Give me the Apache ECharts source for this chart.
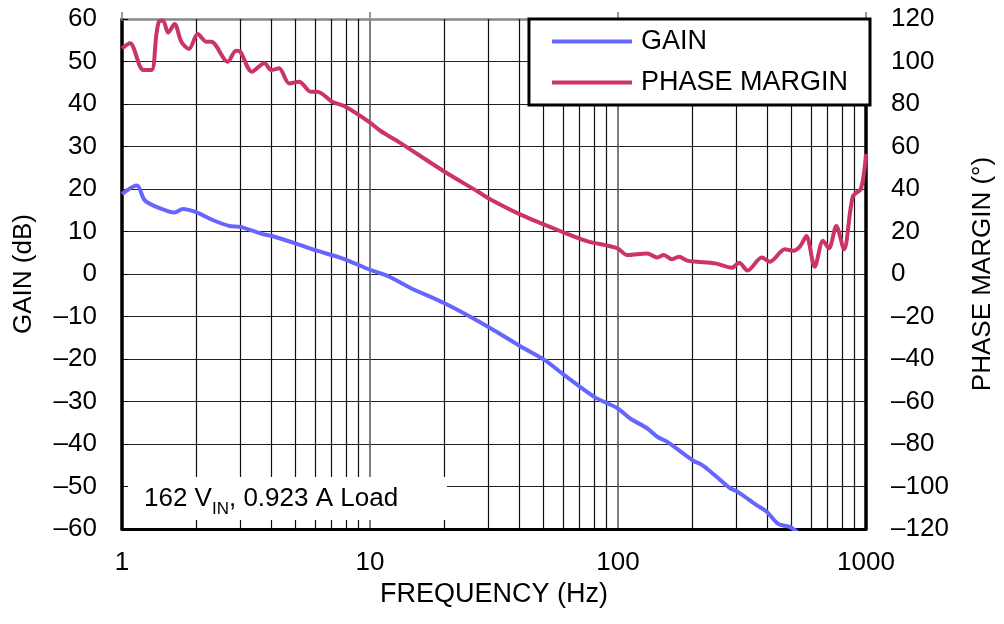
<!DOCTYPE html>
<html>
<head>
<meta charset="utf-8">
<script src="https://cdn.jsdelivr.net/npm/echarts@6/dist/echarts.min.js"></script>
<style>html,body{margin:0;padding:0;background:#fff}#c{width:1004px;height:624px}</style>
</head>
<body>
<div id="c"></div>
<script>
// Gain (dB) vs frequency (Hz)
const gainFreq = [1, 1.146, 1.237, 1.42, 1.63, 1.76, 2.0, 2.32, 2.71, 3.0, 3.69, 4.0, 5.0, 6.0, 7.72, 10, 11.9, 14.7, 20, 29.9, 40.7, 50.5, 60.8, 80.2, 99.5, 112, 131, 144, 158, 202, 218, 243, 283, 301, 362, 397, 443, 493, 532];
const gainDb = [18.8, 20.8, 17.3, 15.5, 14.5, 15.3, 14.5, 12.7, 11.3, 11.1, 9.4, 9.0, 7.2, 5.6, 3.7, 1.0, -0.6, -3.4, -6.9, -12.4, -17.1, -20.2, -23.8, -28.9, -31.6, -34.0, -36.3, -38.3, -39.5, -44.0, -44.9, -47.1, -50.4, -51.1, -54.4, -55.9, -58.8, -59.5, -60.9];
// Phase margin (deg) vs frequency (Hz)
const phaseFreq = [1, 1.077, 1.218, 1.316, 1.378, 1.42, 1.465, 1.534, 1.63, 1.735, 1.862, 2.02, 2.19, 2.29, 2.67, 2.88, 3.0, 3.34, 3.75, 4.0, 4.30, 4.72, 5.18, 5.77, 6.13, 7.04, 7.97, 9.88, 11.0, 13.0, 20, 27.3, 30.9, 40.7, 57.1, 75, 99.5, 109, 131, 144, 153, 165, 176, 190, 208, 247, 288, 308, 333, 380, 410, 471, 509, 541, 575, 621, 671, 709, 759, 815, 885, 955, 1000];
const phaseDeg = [106.2, 108.6, 96.0, 96.0, 113.3, 119.2, 119.2, 113.6, 117.6, 109.3, 105.9, 112.9, 109.3, 109.3, 99.9, 105.1, 104.6, 95.2, 99.2, 96.0, 96.8, 89.7, 90.5, 85.8, 85.8, 81.1, 78.7, 71.7, 67.4, 62.3, 48.1, 38.7, 34.8, 27.8, 20.7, 15.5, 12.1, 8.9, 9.7, 7.8, 8.9, 6.9, 8.1, 6.3, 5.8, 5.0, 3.0, 5.3, 1.6, 7.8, 5.8, 11.6, 11.0, 12.9, 17.9, 3.4, 15.7, 12.1, 22.6, 11.6, 36.4, 40.3, 56.5];
// Minor log grid positions
const minorFreqs = [2,3,4,5,6,7,8,9,20,30,40,50,60,70,80,90,200,300,400,500,600,700,800,900];
const seriesNames = ['GAIN', 'PHASE MARGIN'];
const noteText = ['162 V', 'IN', ', 0.923 A Load'];

const FONT = "'Liberation Sans', Arial, sans-serif";
const dash = v => String(v).replace('-', '\u2013');

const chart = echarts.init(document.getElementById('c'), null, {renderer: 'canvas'});
chart.setOption({
  animation: false,
  backgroundColor: '#fff',
  textStyle: {fontFamily: FONT},
  grid: {left: 122, right: 134, top: 19, bottom: 95, containLabel: false},
  legend: {
    right: 134, top: 19, orient: 'vertical',
    backgroundColor: '#fff', borderColor: '#000', borderWidth: 3, borderRadius: 0,
    padding: [9, 22, 9, 23], itemWidth: 80, itemHeight: 4, itemGap: 14,
    icon: 'rect',
    textStyle: {fontSize: 27, color: '#000', fontFamily: FONT, padding: [0, 0, 0, 4]},
    data: seriesNames
  },
  xAxis: [{
    type: 'log', logBase: 10, min: 1, max: 1000, position: 'bottom',
    axisLine: {show: true, onZero: false, lineStyle: {color: '#000', width: 3}},
    axisTick: {show: false},
    axisLabel: {fontSize: 26, color: '#000', margin: 21, fontFamily: FONT, formatter: v => String(v)},
    splitLine: {show: true, lineStyle: {color: '#555', width: 1.5}},
    name: 'FREQUENCY (Hz)', nameLocation: 'middle', nameGap: 50,
    nameTextStyle: {fontSize: 27, color: '#000', fontFamily: FONT}
  }, {
    type: 'log', logBase: 10, min: 1, max: 1000, position: 'top',
    axisLine: {show: true, onZero: false, lineStyle: {color: '#888', width: 2.5}},
    axisTick: {show: true, inside: false, length: 7, lineStyle: {color: '#999', width: 2}},
    axisLabel: {show: false}, splitLine: {show: false}
  }],
  yAxis: [{
    type: 'value', min: -60, max: 60, interval: 10, position: 'left',
    axisLine: {show: true, onZero: false, lineStyle: {color: '#000', width: 3.5}},
    axisTick: {show: true, inside: true, length: 6, lineStyle: {color: '#000', width: 1}},
    axisLabel: {fontSize: 26, color: '#000', margin: 25, formatter: dash, fontFamily: FONT},
    splitLine: {show: true, lineStyle: {color: '#222', width: 1.2}},
    name: 'GAIN (dB)', nameLocation: 'middle', nameGap: 85, nameRotate: 90,
    nameTextStyle: {fontSize: 26, color: '#000', fontFamily: FONT}
  }, {
    type: 'value', min: -120, max: 120, interval: 20, position: 'right',
    axisLine: {show: true, onZero: false, lineStyle: {color: '#000', width: 3.5}},
    axisTick: {show: false},
    axisLabel: {fontSize: 26, color: '#000', margin: 25, formatter: dash, fontFamily: FONT},
    splitLine: {show: false},
    name: 'PHASE MARGIN (°)', nameLocation: 'middle', nameGap: 104, nameRotate: 90,
    nameTextStyle: {fontSize: 26, color: '#000', fontFamily: FONT}
  }],
  series: [{
    name: seriesNames[0], type: 'line', xAxisIndex: 0, yAxisIndex: 0,
    data: gainFreq.map((f, i) => [f, gainDb[i]]),
    symbol: 'none', smooth: 0.3, z: 3,
    lineStyle: {color: '#6666ff', width: 4}, itemStyle: {color: '#6666ff'},
    markLine: {
      silent: true, symbol: ['none', 'none'], animation: false, z: 1,
      label: {show: false},
      lineStyle: {color: '#111', width: 1.2, type: 'solid'},
      emphasis: {disabled: true},
      data: minorFreqs.map(f => ({xAxis: f}))
    }
  }, {
    name: seriesNames[1], type: 'line', xAxisIndex: 0, yAxisIndex: 1,
    data: phaseFreq.map((f, i) => [f, phaseDeg[i]]),
    symbol: 'none', smooth: 0.3, z: 3,
    lineStyle: {color: '#cc3366', width: 4}, itemStyle: {color: '#cc3366'}
  }],
  graphic: [{
    type: 'rect', z: 50, left: 128, top: 477,
    shape: {width: 319, height: 43}, style: {fill: '#fff'}
  }, {
    type: 'text', z: 51, left: 144, top: 486,
    style: {
      text: '{a|' + noteText[0] + '}{b|' + noteText[1] + '}{a|' + noteText[2] + '}',
      rich: {
        a: {fontSize: 26, fontFamily: FONT, fill: '#000', lineHeight: 30, verticalAlign: 'bottom'},
        b: {fontSize: 17, fontFamily: FONT, fill: '#000', lineHeight: 30, verticalAlign: 'bottom', padding: [0, 0, -6, 0]}
      }
    }
  }]
});
</script>
</body>
</html>
